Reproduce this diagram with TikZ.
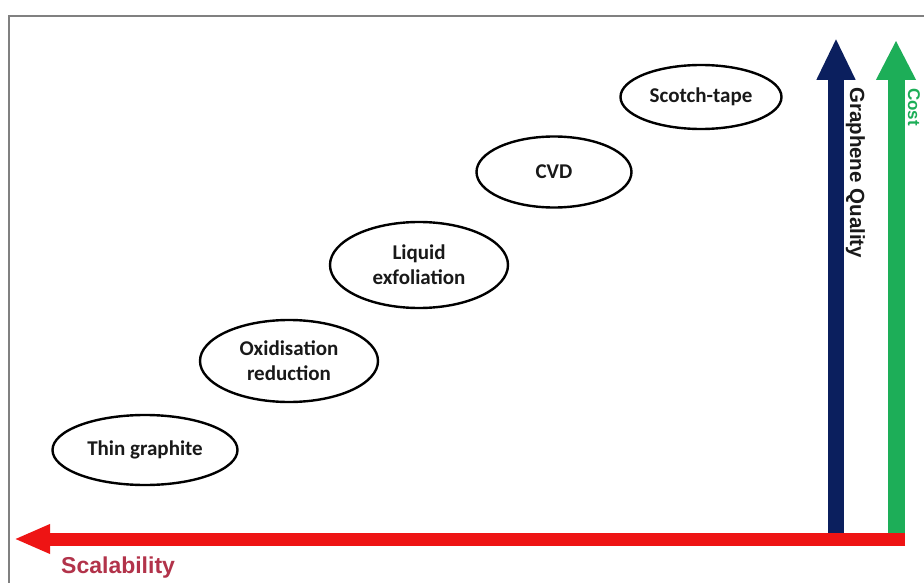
\documentclass[tikz,border=0pt]{standalone}
\usepackage{fontspec}
\setmainfont{Carlito}
\newfontfamily\arialf{Liberation Sans}
\usetikzlibrary{arrows.meta,shapes.geometric}
\definecolor{navyq}{HTML}{0B1F5E}
\definecolor{greenc}{HTML}{1DAE58}
\definecolor{reds}{HTML}{EE1414}
\definecolor{scaltext}{HTML}{B2334A}
\definecolor{framegray}{HTML}{808080}
\begin{document}
\begin{tikzpicture}[x=1pt,y=-1pt,
  method/.style={ellipse,draw=black,line width=2.4pt,inner sep=0pt,
    font=\fontsize{21}{25}\selectfont\bfseries,align=center,text=black!90},
  axislabel/.style={inner sep=0pt}]
\useasboundingbox (0,0) rectangle (924,583);
\fill[white] (0,0) rectangle (924,583);
\draw[framegray,line width=2pt] (9,583) -- (9,16) -- (924,16);

\node[method,minimum width=185pt,minimum height=70pt] (thin) at (145,450) {Thin graphite};
\node[method,minimum width=178pt,minimum height=82pt] (oxid) at (289,361) {Oxidisation\\reduction};
\node[method,minimum width=178pt,minimum height=86pt] (liq) at (419,265) {Liquid\\exfoliation};
\node[method,minimum width=155pt,minimum height=71pt] (cvd) at (554,172) {CVD};
\node[method,minimum width=161pt,minimum height=64pt] (scotch) at (701,97) {Scotch-tape};

\coordinate (qbot) at (836,536);
\coordinate (qtop) at (836,38);
\coordinate (cbot) at (896,545);
\coordinate (ctop) at (896,40);
\coordinate (sright) at (905,539);
\coordinate (sleft) at (14,539);

\draw[navyq,line width=16pt,-{Triangle[length=42pt,width=36pt]}] (qbot) -- (qtop);
\draw[greenc,line width=17pt,-{Triangle[length=40pt,width=37pt]}] (cbot) -- (ctop);
\draw[reds,line width=13pt,-{Triangle[length=36pt,width=27pt]}] (sright) -- (sleft);

\node[axislabel,rotate=-90,anchor=base west,text=black!90,font=\arialf\fontsize{20.5}{24}\selectfont\bfseries] (ql) at (850,87) {Graphene Quality};
\node[axislabel,rotate=-90,anchor=base west,text=greenc,font=\arialf\fontsize{17}{22}\selectfont\bfseries] (cl) at (908,88) {Cost};
\node[anchor=base west,inner sep=0pt,text=scaltext,font=\arialf\fontsize{23}{26}\selectfont\bfseries] (sl) at (61,573) {Scalability};
\end{tikzpicture}
\end{document}
